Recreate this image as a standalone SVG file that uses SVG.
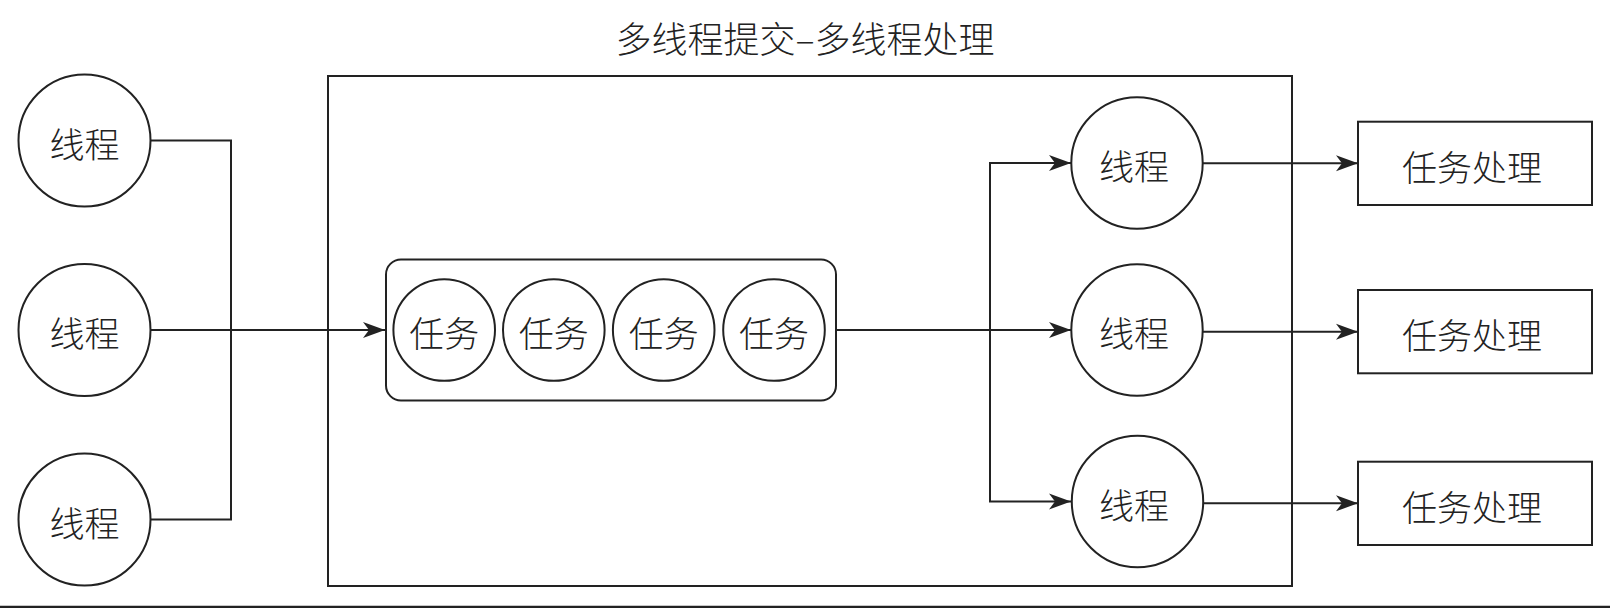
<svg xmlns="http://www.w3.org/2000/svg" width="1610" height="608" viewBox="0 0 1610 608">
<style>
.s{fill:none;stroke:#222;stroke-width:2}
.n{fill:#fff;stroke:#222;stroke-width:2}
.t{font-family:"Noto Sans CJK SC","Noto Sans",sans-serif;font-size:35px;font-weight:300;fill:#222;text-anchor:middle;dominant-baseline:central}
.c{fill:none;stroke:#222;stroke-width:2}
</style>
<defs>
<marker id="arr" viewBox="0 0 22 18" refX="22" refY="9" markerWidth="22" markerHeight="18" markerUnits="userSpaceOnUse" orient="auto">
<path d="M0,1 L22,9 L0,17 L6,9 Z" fill="#222"/>
</marker>
</defs>
<rect width="1610" height="608" fill="#fff"/>
<text x="805" y="37" class="t" style="font-size:36px">多线程提交–多线程处理</text>
<g id="frame"><rect x="328" y="76" width="964" height="510" class="s"/></g>
<g id="connectors">
<polyline points="150.5,140.5 231,140.5 231,519.5 150.5,519.5" class="c"/>
<line x1="150.5" y1="330" x2="385" y2="330" class="c" marker-end="url(#arr)"/>
<line x1="836" y1="330" x2="1071" y2="330" class="c" marker-end="url(#arr)"/>
<polyline points="1071,163 990,163 990,501.5 1071,501.5" class="c" marker-end="url(#arr)"/>
<path d="M990,163 L1071,163" class="c" marker-end="url(#arr)"/>
<line x1="1202.5" y1="163.3" x2="1358" y2="163.3" class="c" marker-end="url(#arr)"/>
<line x1="1202.5" y1="331.7" x2="1358" y2="331.7" class="c" marker-end="url(#arr)"/>
<line x1="1202.5" y1="503.3" x2="1358" y2="503.3" class="c" marker-end="url(#arr)"/>
</g>
<g id="src1"><circle cx="84.5" cy="140.5" r="66" class="n"/><text x="84.5" y="142" class="t">线程</text></g>
<g id="src2"><circle cx="84.5" cy="330" r="66" class="n"/><text x="84.5" y="331.5" class="t">线程</text></g>
<g id="src3"><circle cx="84.5" cy="519.5" r="66" class="n"/><text x="84.5" y="521" class="t">线程</text></g>
<g id="queue">
<rect x="386" y="259.5" width="450" height="141" rx="15" ry="15" class="s"/>
<g id="task1"><circle cx="444.2" cy="330" r="50.8" class="n"/><text x="444.2" y="331" class="t">任务</text></g>
<g id="task2"><circle cx="553.8" cy="330" r="50.8" class="n"/><text x="553.8" y="331" class="t">任务</text></g>
<g id="task3"><circle cx="663.7" cy="330" r="50.8" class="n"/><text x="663.7" y="331" class="t">任务</text></g>
<g id="task4"><circle cx="774" cy="330" r="50.8" class="n"/><text x="774" y="331" class="t">任务</text></g>
</g>
<g id="worker1"><circle cx="1137" cy="163" r="65.7" class="n"/><text x="1134" y="164.5" class="t">线程</text></g>
<g id="worker2"><circle cx="1137" cy="330" r="65.7" class="n"/><text x="1134" y="331.5" class="t">线程</text></g>
<g id="worker3"><circle cx="1137.5" cy="501.5" r="65.7" class="n"/><text x="1134" y="503" class="t">线程</text></g>
<g id="proc1"><rect x="1358" y="121.7" width="234" height="83.3" class="s"/><text x="1472" y="165" class="t">任务处理</text></g>
<g id="proc2"><rect x="1358" y="290" width="234" height="83.3" class="s"/><text x="1472" y="333.5" class="t">任务处理</text></g>
<g id="proc3"><rect x="1358" y="461.7" width="234" height="83.3" class="s"/><text x="1472" y="505" class="t">任务处理</text></g>
<line x1="0" y1="607" x2="1610" y2="607" stroke="#222" stroke-width="2.5"/>
</svg>
